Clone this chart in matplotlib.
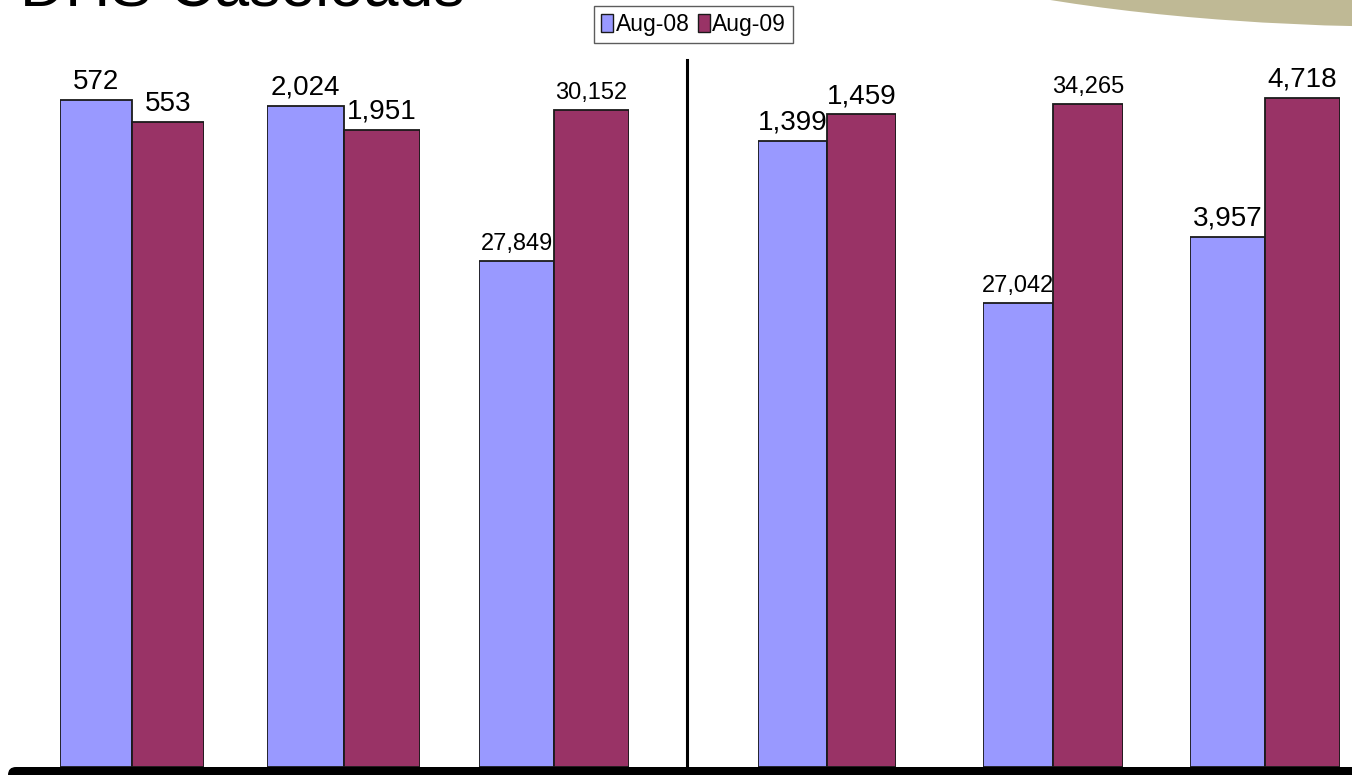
import matplotlib
matplotlib.use("Agg")
import matplotlib.pyplot as plt
from matplotlib.patches import Ellipse, FancyBboxPatch, Patch
from matplotlib.lines import Line2D
from matplotlib.transforms import IdentityTransform

# ---- data ----
series = ["Aug-08", "Aug-09"]
aug08 = [572, 2024, 27849, 1399, 27042, 3957]
aug09 = [553, 1951, 30152, 1459, 34265, 4718]
title = "DHS Caseloads"

# ---- layout (pixels from top-left of a 1352x775 canvas) ----
W, H = 1352, 775
group_px = [(60, 204), (267, 420), (479, 629), (758, 896), (983, 1123), (1190, 1340)]
axis_ranges = [(0, 606), (0, 2165), (20130, 30915), (0, 1580), (10203, 35862), (1056, 4926)]
label_sizes = [20, 20, 17, 20, 17, 20]
ax_bottom_px, ax_top_px = 767, 60

c08 = "#9999FF"
c09 = "#993366"
edge = "#1a1a1a"
FONT = ["Liberation Sans Narrow", "Liberation Sans", "DejaVu Sans"]

fig = plt.figure(figsize=(W / 100, H / 100), dpi=100)
fig.patch.set_facecolor("white")

# decorative ellipse top-right
ell = Ellipse((1420, H + 123), width=2 * 646, height=2 * 150,
              facecolor="#BFB995", edgecolor="none", transform=IdentityTransform())
fig.add_artist(ell)

for i in range(len(aug08)):
    x0, x1 = group_px[i]
    ax = fig.add_axes([x0 / W, (H - ax_bottom_px) / H, (x1 - x0) / W,
                       (ax_bottom_px - ax_top_px) / H])
    vals = [aug08[i], aug09[i]]
    lo, hi = axis_ranges[i]
    bars = ax.bar([0, 1], [v - lo for v in vals], bottom=lo, width=1.0,
                  color=[c08, c09], edgecolor=edge, linewidth=1.3)
    ax.set_xlim(-0.5, 1.5)
    ax.set_ylim(lo, hi)
    ax.axis("off")
    for xi, v in enumerate(vals):
        ax.annotate(f"{v:,}", (xi, v), xytext=(0, 8), textcoords="offset points",
                    ha="center", va="baseline", fontsize=label_sizes[i],
                    family=FONT, color="black", annotation_clip=False)

# divider line
fig.add_artist(Line2D([687 / W, 687 / W], [(H - 767) / H, (H - 60) / H],
                      color="black", linewidth=2.2, transform=fig.transFigure))

# bottom black bar
bar = FancyBboxPatch((8, -20), 1500, 28, boxstyle="round,pad=0,rounding_size=8",
                     facecolor="black", edgecolor="none", transform=IdentityTransform())
fig.add_artist(bar)

# title (cropped at top)
fig.text(20 / W, 1 - 6 / H, title, fontsize=45, va="baseline", ha="left",
         family=["Liberation Sans", "DejaVu Sans"], color="black")

# legend
handles = [Patch(facecolor=c08, edgecolor=edge, linewidth=1.0, label=series[0]),
           Patch(facecolor=c09, edgecolor=edge, linewidth=1.0, label=series[1])]
leg = fig.legend(handles=handles, loc="center", bbox_to_anchor=(693.5 / W, 1 - 24.5 / H),
                 ncol=2, frameon=True, fancybox=False, handlelength=0.55,
                 handleheight=0.85, handletextpad=0.1, columnspacing=0.35,
                 borderpad=0.3, borderaxespad=0,
                 prop={"family": FONT, "size": 16.5})
leg.get_frame().set_edgecolor("#333333")
leg.get_frame().set_linewidth(1.0)

fig.savefig("out.png", dpi=100, facecolor="white")
